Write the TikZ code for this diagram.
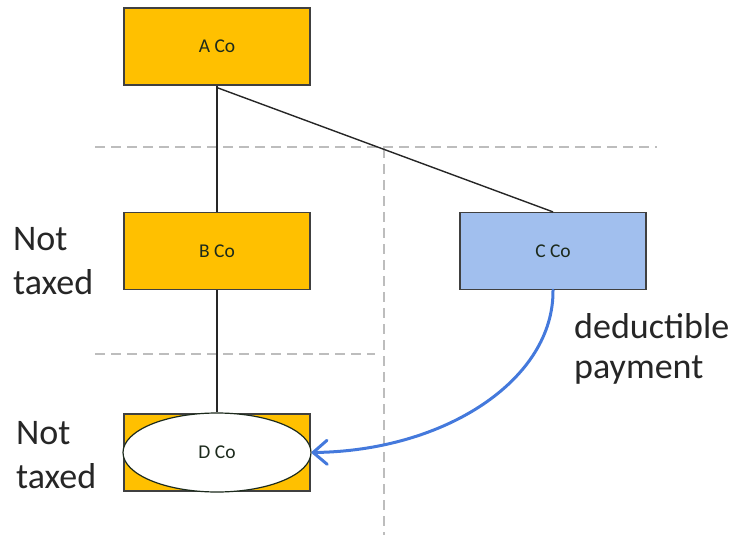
\documentclass[tikz,border=0pt]{standalone}
\usepackage{fontspec}
\setmainfont{Carlito}
\usetikzlibrary{arrows.meta,shapes.geometric}
\definecolor{boxorange}{HTML}{FFC000}
\definecolor{boxblue}{HTML}{A1BFEE}
\definecolor{edgegray}{HTML}{404040}
\definecolor{inkdark}{HTML}{1C2A1C}
\definecolor{flowblue}{HTML}{4479DC}
\definecolor{zonegray}{HTML}{BDBDBD}
\tikzset{
  company/.style={draw=edgegray, line width=1.2pt, minimum width=186pt, minimum height=77pt,
    inner sep=0pt, font=\fontsize{19.5}{23}\selectfont, text=inkdark},
  owner/.style={draw=black!85, line width=1.4pt},
  zone/.style={draw=zonegray, line width=1.4pt, dash pattern=on 10pt off 6pt},
  remark/.style={align=left, anchor=north west, inner sep=0pt, text=black!85},
  flow/.style={draw=flowblue, line width=3pt, line cap=round,
    -{Straight Barb[length=14pt,width=24pt,line width=3pt,round]}}
}
\begin{document}
\begin{tikzpicture}[x=1pt,y=-1pt]
\useasboundingbox (0,0) rectangle (736,535);

% tax zone boundaries
\coordinate (zl1) at (95,147);  \coordinate (zr1) at (657,147);
\coordinate (zl2) at (95,354);  \coordinate (zr2) at (375,354);
\coordinate (zt)  at (384,148); \coordinate (zb)  at (384,535);
\draw[zone] (zl1) -- (zr1);
\draw[zone] (zl2) -- (zr2);
\draw[zone] (zt) -- (zb);

% companies
\node[company, fill=boxorange] (a) at (217,46.5) {A Co};
\node[company, fill=boxorange] (b) at (217,251) {B Co};
\node[company, fill=boxblue]   (c) at (553,251) {C Co};
\node[company, fill=boxorange] (dbox) at (217,452.5) {};
\node[ellipse, draw=inkdark, line width=1.2pt, fill=white, minimum width=188pt,
      minimum height=79pt, inner sep=0pt, font=\fontsize{19.5}{23}\selectfont,
      text=inkdark] (d) at (217,452.5) {D Co};

% ownership links
\draw[owner] (a.south) -- (b.north);
\draw[owner] ([yshift=-2pt]a.south) -- (c.north);
\draw[owner] (b.south) -- (d.north);

% payment flow: a quarter-ellipse sweep from C Co down to D Co
\draw[flow] (c.south) .. controls (554,379) and (446,451) .. (d.east);

% remarks
\node[remark, font=\fontsize{36}{44}\selectfont] (nt1) at (13,227) {Not\\taxed};
\node[remark, font=\fontsize{36}{44}\selectfont] (nt2) at (16,421) {Not\\taxed};
\node[remark, font=\fontsize{36}{40}\selectfont] (dp)  at (574,313) {deductible\\payment};
\end{tikzpicture}
\end{document}
